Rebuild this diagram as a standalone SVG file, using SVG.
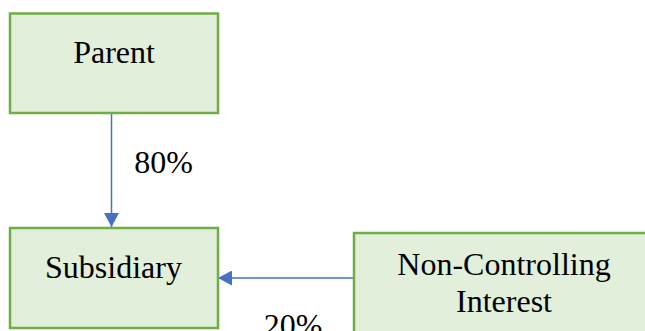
<svg xmlns="http://www.w3.org/2000/svg" width="645" height="331" viewBox="0 0 645 331">
<defs>
<style>
.box{fill:#E2EFDA;stroke:#70AD47;stroke-width:2.5}
text{font-family:'Liberation Serif','DejaVu Serif',serif;font-size:32px;fill:#000;text-anchor:middle}
.c{stroke:#4472C4;stroke-width:1.5;fill:none}
</style>
<marker id="ah" viewBox="0 0 14 15" refX="14" refY="7.5" markerWidth="14" markerHeight="15" markerUnits="userSpaceOnUse" orient="auto">
<path d="M0,0 L14,7.5 L0,15 z" fill="#4472C4"/>
</marker>
</defs>
<g id="connectors">
<line class="c" x1="111.5" y1="114" x2="111.5" y2="227" marker-end="url(#ah)"/>
<line class="c" x1="353" y1="278" x2="218" y2="278" marker-end="url(#ah)"/>
<text x="163.5" y="173">80%</text>
<text x="293" y="336">20%</text>
</g>
<g id="parent">
<rect class="box" x="10" y="13.5" width="208" height="99.5"/>
<text x="114" y="63">Parent</text>
</g>
<g id="subsidiary">
<rect class="box" x="10" y="228" width="208" height="100"/>
<text x="113.5" y="278">Subsidiary</text>
</g>
<g id="nci">
<rect class="box" x="354" y="233" width="302" height="110"/>
<text x="504" y="275">Non-Controlling</text>
<text x="504" y="312">Interest</text>
</g>
</svg>
